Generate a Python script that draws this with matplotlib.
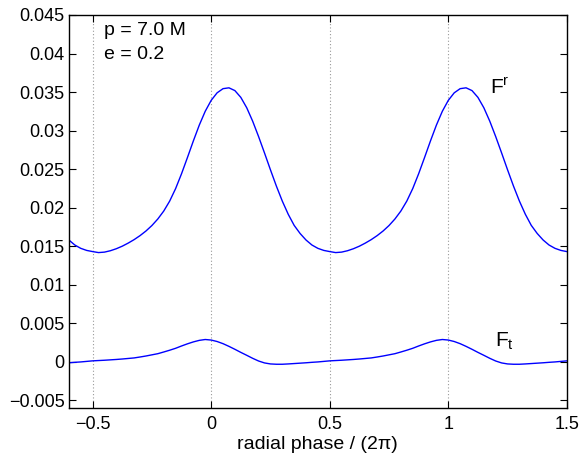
import numpy as np
import matplotlib
matplotlib.use('Agg')
import matplotlib.pyplot as plt

plt.rcParams['font.family'] = ['Liberation Sans', 'DejaVu Sans']
plt.rcParams['mathtext.fontset'] = 'custom'
plt.rcParams['mathtext.rm'] = 'Liberation Sans'
plt.rcParams['mathtext.it'] = 'Liberation Sans'

# radial phase samples over one period (step 0.025)
phase = [-0.5, -0.475, -0.45, -0.425, -0.4, -0.375, -0.35, -0.325, -0.3, -0.275,
         -0.25, -0.225, -0.2, -0.175, -0.15, -0.125, -0.1, -0.075, -0.05, -0.025,
         0.0, 0.025, 0.05, 0.075, 0.1, 0.125, 0.15, 0.175, 0.2, 0.225,
         0.25, 0.275, 0.3, 0.325, 0.35, 0.375, 0.4, 0.425, 0.45, 0.475]

# radial self-force component F^r
f_r = [0.0143, 0.01417, 0.01423, 0.01441, 0.01467, 0.0150, 0.0154, 0.01585, 0.01637, 0.01697,
       0.01768, 0.01853, 0.01956, 0.02085, 0.02247, 0.0244, 0.02651, 0.02867, 0.03072, 0.03251,
       0.03392, 0.0349, 0.03544, 0.03555, 0.03519, 0.03431, 0.03296, 0.03122, 0.02922, 0.02709,
       0.02491, 0.0228, 0.02085, 0.01914, 0.0177, 0.01665, 0.0158, 0.01515, 0.01472, 0.01445]

# temporal component F_t
f_t = [0.00012, 0.00016, 0.0002, 0.00025, 0.0003, 0.00036, 0.00043, 0.0005, 0.00062, 0.00075,
       0.0009, 0.00105, 0.00127, 0.0015, 0.00175, 0.00205, 0.00233, 0.00258, 0.00278, 0.00289,
       0.00282, 0.00263, 0.00235, 0.002, 0.00162, 0.00122, 0.00084, 0.00045, 0.0001, -0.00015,
       -0.00028, -0.00032, -0.00032, -0.00028, -0.00023, -0.00018, -0.00013, -0.00007, -0.00002, 0.00005]

# the forces repeat every radial period
x = np.concatenate([np.array(phase) + k for k in (-1, 0, 1, 2)])
yr = np.tile(f_r, 4)
yt = np.tile(f_t, 4)
keep = (x >= -0.6) & (x <= 1.5)
x, yr, yt = x[keep], yr[keep], yt[keep]

fig = plt.figure(figsize=(5.79, 4.53), dpi=100)
ax = fig.add_axes([0.119, 0.0993, 0.860, 0.8676])

for xv in [-0.5, 0, 0.5, 1]:
    ax.axvline(xv, color='#999999', ls=(0, (1, 2)), lw=0.8, zorder=0)

ax.plot(x, yr, color='blue', lw=1.0)
ax.plot(x, yt, color='blue', lw=1.0)

ax.set_xlim(-0.6, 1.5)
ax.set_ylim(-0.006, 0.045)
ax.set_xticks([-0.5, 0, 0.5, 1, 1.5])
ax.set_xticklabels(['\u22120.5', '0', '0.5', '1', '1.5'])
ax.set_yticks(np.arange(-0.005, 0.0451, 0.005))
ax.set_yticklabels(['\u22120.005', '0', '0.005', '0.01', '0.015', '0.02',
                    '0.025', '0.03', '0.035', '0.04', '0.045'])
ax.tick_params(direction='in', top=True, right=True, length=5, width=0.8,
               labelsize=13)
ax.tick_params(axis='x', pad=6)
ax.tick_params(axis='y', pad=3)
for s in ax.spines.values():
    s.set_linewidth(1.0)

ax.set_xlabel('radial phase / (2\u03c0)', fontsize=14, labelpad=2)

ax.text(-0.451, 0.04246, 'p = 7.0 M', fontsize=14)
ax.text(-0.451, 0.0393, 'e = 0.2', fontsize=14)
ax.text(1.177, 0.0348, r'$\mathrm{F}^{\mathrm{r}}$', fontsize=15)
ax.text(1.198, 0.00194, r'$\mathrm{F}_{\mathrm{t}}$', fontsize=15)

fig.savefig('out.png', dpi=100)
